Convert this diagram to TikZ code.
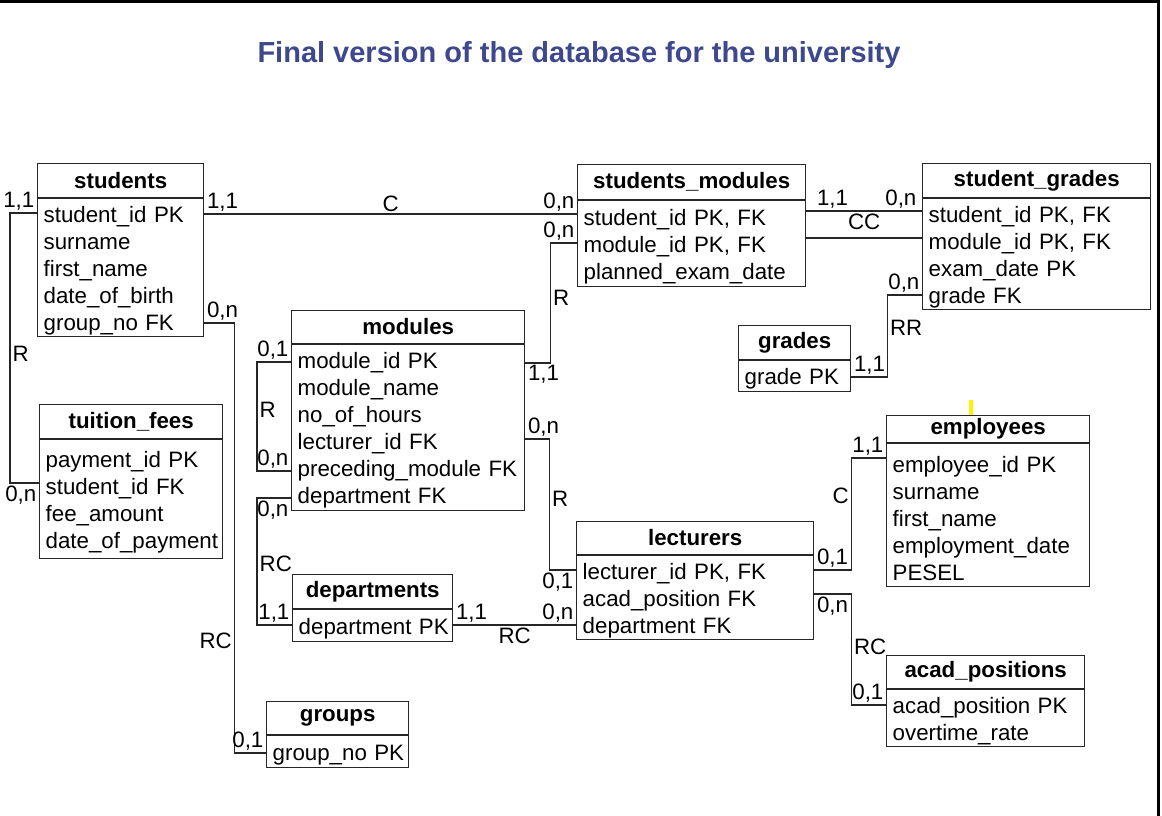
\documentclass[tikz,border=0pt]{standalone}
\usepackage{fontspec}
\setmainfont{Liberation Sans}

\definecolor{titleblue}{RGB}{62,72,140}
\newcommand\bodyfont{\fontsize{22.3}{27}\selectfont}

\begin{document}
\begin{tikzpicture}[
  x=1pt, y=-1pt,
  % Entity header and attribute list
  ehead/.style={draw=black!85, line width=1.4pt, font=\bodyfont\bfseries, anchor=south west, inner sep=0pt},
  ebody/.style={draw=black!85, line width=1.4pt, font=\bodyfont, anchor=north west, inner xsep=6pt, inner ysep=0pt, align=left,
    execute at begin node={\rule{0pt}{22pt}}},
  % Relationship line
  rel/.style={draw=black!85, line width=1.3pt},
  % Cardinality / rule label
  card/.style={font=\bodyfont, inner sep=2pt}
]
\useasboundingbox (0,0) rectangle (1162,816);

%% Frame and title
\draw[line width=3pt] (0,1.5) -- (1158.5,1.5) -- (1158.5,816);
\node[font=\fontsize{29}{34}\selectfont\bfseries, text=titleblue] (title) at (579,55)
  {Final version of the database for the university};
\draw[yellow, line width=4pt] (971,400) -- (971,416);

%% Entities
\node[ehead, minimum width=166pt, minimum height=34pt] (students) at (37,198) {students};
\node[ebody, text width=154pt, minimum height=138pt] (students-a) at (37,198)
  {student\_id~PK\\surname\\first\_name\\date\_of\_birth\\group\_no~FK};

\node[ehead, minimum width=183pt, minimum height=34pt] (fees) at (39,439) {tuition\_fees};
\node[ebody, text width=171pt, minimum height=119pt] (fees-a) at (39,439)
  {payment\_id~PK\\student\_id~FK\\fee\_amount\\date\_of\_payment};

\node[ehead, minimum width=233pt, minimum height=33pt] (modules) at (291,344) {modules};
\node[ebody, text width=221pt, minimum height=166pt] (modules-a) at (291,344)
  {module\_id~PK\\module\_name\\no\_of\_hours\\lecturer\_id~FK\\preceding\_module~FK\\department~FK};

\node[ehead, minimum width=160pt, minimum height=34pt] (depts) at (292,609) {departments};
\node[ebody, text width=148pt, minimum height=32pt] (depts-a) at (292,609)
  {department~PK};

\node[ehead, minimum width=142pt, minimum height=33pt] (groups) at (266,735) {groups};
\node[ebody, text width=130pt, minimum height=32pt] (groups-a) at (266,735)
  {group\_no~PK};

\node[ehead, minimum width=228pt, minimum height=35pt] (smod) at (577,200) {students\_modules};
\node[ebody, text width=216pt, minimum height=86pt] (smod-a) at (577,200)
  {student\_id~PK,~FK\\module\_id~PK,~FK\\planned\_exam\_date};

\node[ehead, minimum width=228pt, minimum height=34pt] (sgrades) at (922,198) {student\_grades};
\node[ebody, text width=216pt, minimum height=111pt] (sgrades-a) at (922,198)
  {student\_id~PK,~FK\\module\_id~PK,~FK\\exam\_date~PK\\grade~FK};

\node[ehead, minimum width=112pt, minimum height=34pt] (grades) at (738,360) {grades};
\node[ebody, text width=100pt, minimum height=31pt] (grades-a) at (738,360)
  {grade~PK};

\node[ehead, minimum width=237pt, minimum height=33pt] (lecturers) at (576,555) {lecturers};
\node[ebody, text width=225pt, minimum height=84pt] (lecturers-a) at (576,555)
  {lecturer\_id~PK,~FK\\acad\_position~FK\\department~FK};

\node[ehead, minimum width=203pt, minimum height=27pt] (employees) at (886,443) {employees};
\node[ebody, text width=191pt, minimum height=143pt] (employees-a) at (886,443)
  {employee\_id~PK\\surname\\first\_name\\employment\_date\\PESEL};

\node[ehead, minimum width=198pt, minimum height=33pt] (positions) at (886,689) {acad\_positions};
\node[ebody, text width=186pt, minimum height=57pt] (positions-a) at (886,689)
  {acad\_position~PK\\overtime\_rate};

%% Relationships
% students -- tuition_fees
\draw[rel] ([yshift=-15pt]students-a.north west) node[card, anchor=south east] {1,1}
  -- ++(-27,0) |- node[card, pos=0.26, right] {R}
  ([yshift=-44pt]fees-a.north west) node[card, anchor=north east] {0,n};

% students -- students_modules
\draw[rel] ([yshift=-16pt]students-a.north east) node[card, anchor=south west] {1,1}
  -- node[card, above] {C}
  ([yshift=-16pt]students-a.north east -| smod-a.west) node[card, anchor=south east] {0,n};

% students -- groups
\draw[rel] ([yshift=-125pt]students-a.north east) node[card, anchor=south west] {0,n}
  -- ++(30,0) |- node[card, pos=0.37, left] {RC}
  ([yshift=-18pt]groups-a.north west) node[card, anchor=south east] {0,1};

% modules -- modules (preceding module)
\draw[rel] ([yshift=-18pt]modules-a.north west) node[card, anchor=south east] {0,1}
  -- ++(-34,0) |- node[card, pos=0.22, right] {R}
  ([yshift=-127pt]modules-a.north west) node[card, anchor=south east] {0,n};

% modules -- departments
\draw[rel] ([yshift=-154pt]modules-a.north west) node[card, anchor=north east] {0,n}
  -- ++(-34,0) |- node[card, pos=0.26, right] {RC}
  ([yshift=-16pt]depts-a.north west) node[card, anchor=south east] {1,1};

% departments -- lecturers
\draw[rel] ([yshift=-16pt]depts-a.north east) node[card, anchor=south west] {1,1}
  -- node[card, below] {RC}
  ([yshift=-16pt]depts-a.north east -| lecturers-a.west) node[card, anchor=south east] {0,n};

% modules -- lecturers
\draw[rel] ([yshift=-95pt]modules-a.north east) node[card, anchor=south west] {0,n}
  -- ++(24,0) |- node[card, pos=0.23, right] {R}
  ([yshift=-15pt]lecturers-a.north west) node[card, anchor=north east] {0,1};

% modules -- students_modules
\draw[rel] ([yshift=-19pt]modules-a.north east) node[card, anchor=north west] {1,1}
  -- ++(25,0) |- node[card, pos=0.27, right] {R}
  ([yshift=-43pt]smod-a.north west) node[card, anchor=south east] {0,n};

% students_modules -- student_grades (two lines)
\draw[rel] ([yshift=-11pt]smod-a.north east) node[card, anchor=south west, xshift=8pt] {1,1}
  -- node[card, below] {CC}
  ([yshift=-11pt]smod-a.north east -| sgrades-a.west) node[card, anchor=south east, xshift=-3pt] {0,n};
\draw[rel] ([yshift=-38pt]smod-a.north east) -- ([yshift=-38pt]smod-a.north east -| sgrades-a.west);

% grades -- student_grades
\draw[rel] ([yshift=-17pt]grades-a.north east) node[card, anchor=south west] {1,1}
  -- ++(36,0) |- node[card, pos=0.3, right] {RR}
  ([yshift=-97pt]sgrades-a.north west) node[card, anchor=south east] {0,n};

% lecturers -- employees
\draw[rel] ([yshift=-15pt]lecturers-a.north east) node[card, anchor=south west] {0,1}
  -- ++(37,0) |- node[card, pos=0.33, left] {C}
  ([yshift=-15pt]employees-a.north west) node[card, anchor=south east] {1,1};

% lecturers -- acad_positions
\draw[rel] ([yshift=-39pt]lecturers-a.north east) node[card, anchor=north west] {0,n}
  -- ++(37,0) |- node[card, pos=0.24, right] {RC}
  ([yshift=-16pt]positions-a.north west) node[card, anchor=south east] {0,1};

\end{tikzpicture}
\end{document}
